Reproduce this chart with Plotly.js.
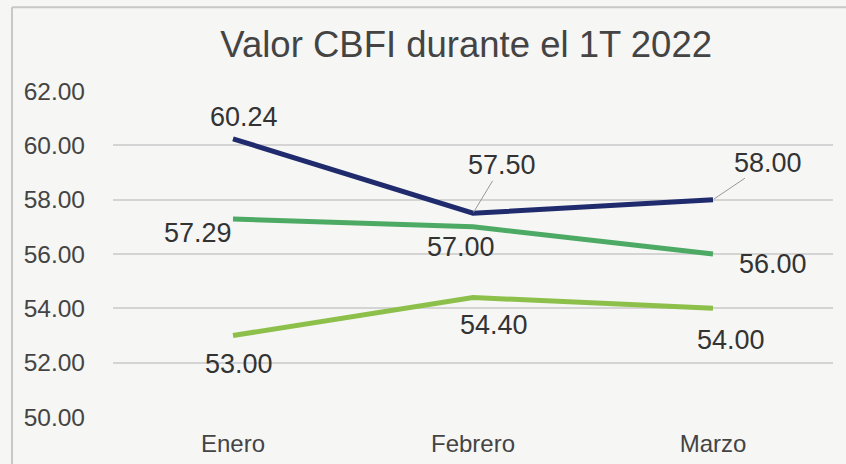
<!DOCTYPE html>
<html>
<head>
<meta charset="utf-8">
<script src="https://cdn.plot.ly/plotly-3.0.1.min.js"></script>
<style>html,body{margin:0;padding:0;background:#f6f6f4;}#chart{width:846px;height:464px;}</style>
</head>
<body>
<div id="chart"></div>
<script>
const months = ["Enero", "Febrero", "Marzo"];
const serieAzul = [60.24, 57.50, 58.00];
const serieVerde = [57.29, 57.00, 56.00];
const serieVerdeClaro = [53.00, 54.40, 54.00];
const yTicks = [50, 52, 54, 56, 58, 60, 62];

const series = [
  {y: serieAzul, color: "#1f2b6c", offs: [[11, 22, false], [29, -48, true], [55, -37, true]]},
  {y: serieVerde, color: "#4caa64", offs: [[-35, -14, false], [-12, -20, false], [60, -10, false]]},
  {y: serieVerdeClaro, color: "#8dc04b", offs: [[6, -28, false], [21, -28, false], [18, -32, false]]}
];

const traces = series.map(s => ({
  x: months, y: s.y, type: "scatter", mode: "lines",
  line: {color: s.color, width: 5}, hoverinfo: "skip", showlegend: false
}));

const annotations = [];
series.forEach(s => {
  s.y.forEach((v, i) => {
    const o = s.offs[i];
    const base = {x: months[i], y: v, xref: "x", yref: "y", text: v.toFixed(2),
      font: {family: "Liberation Sans, Arial, sans-serif", size: 27, color: "#333"}};
    if (o[2]) {
      annotations.push(Object.assign(base, {showarrow: true, arrowhead: 0, arrowwidth: 1,
        arrowcolor: "#999", ax: o[0], ay: o[1], borderpad: 0, standoff: 1}));
    } else {
      annotations.push(Object.assign(base, {showarrow: false, xshift: o[0], yshift: o[1]}));
    }
  });
});

const layout = {
  width: 846, height: 464,
  paper_bgcolor: "#f6f6f4", plot_bgcolor: "#f6f6f4",
  margin: {l: 113, r: 13, t: 91, b: 47},
  title: {text: "Valor CBFI durante el 1T 2022", x: 0.551, xanchor: "center", y: 0.905, yanchor: "middle",
    font: {family: "Liberation Sans, Arial, sans-serif", size: 36.5, color: "#444"}},
  xaxis: {type: "category", range: [-0.5, 2.5], showgrid: false, zeroline: false, showline: false,
    tickfont: {family: "Liberation Sans, Arial, sans-serif", size: 24, color: "#444"}, ticklabelstandoff: 10},
  yaxis: {range: [50, 62], tickvals: yTicks, ticktext: yTicks.map(t => t.toFixed(2)),
    showgrid: true, gridcolor: "#d4d4d4", gridwidth: 2, zeroline: false, showline: false,
    tickfont: {family: "Liberation Sans, Arial, sans-serif", size: 24.5, color: "#444"}, ticklabelstandoff: 27},
  annotations: annotations,
  shapes: [
    {type: "line", xref: "paper", yref: "paper", x0: -0.1403, x1: -0.1403, y0: -0.2, y1: 1.2568, line: {color: "#c8c8c8", width: 2}},
    {type: "line", xref: "paper", yref: "paper", x0: -0.1403, x1: 1.02, y0: 1.2568, y1: 1.2568, line: {color: "#c8c8c8", width: 2}}
  ]
};

Plotly.newPlot("chart", traces, layout, {staticPlot: true, displayModeBar: false});
</script>
</body>
</html>
